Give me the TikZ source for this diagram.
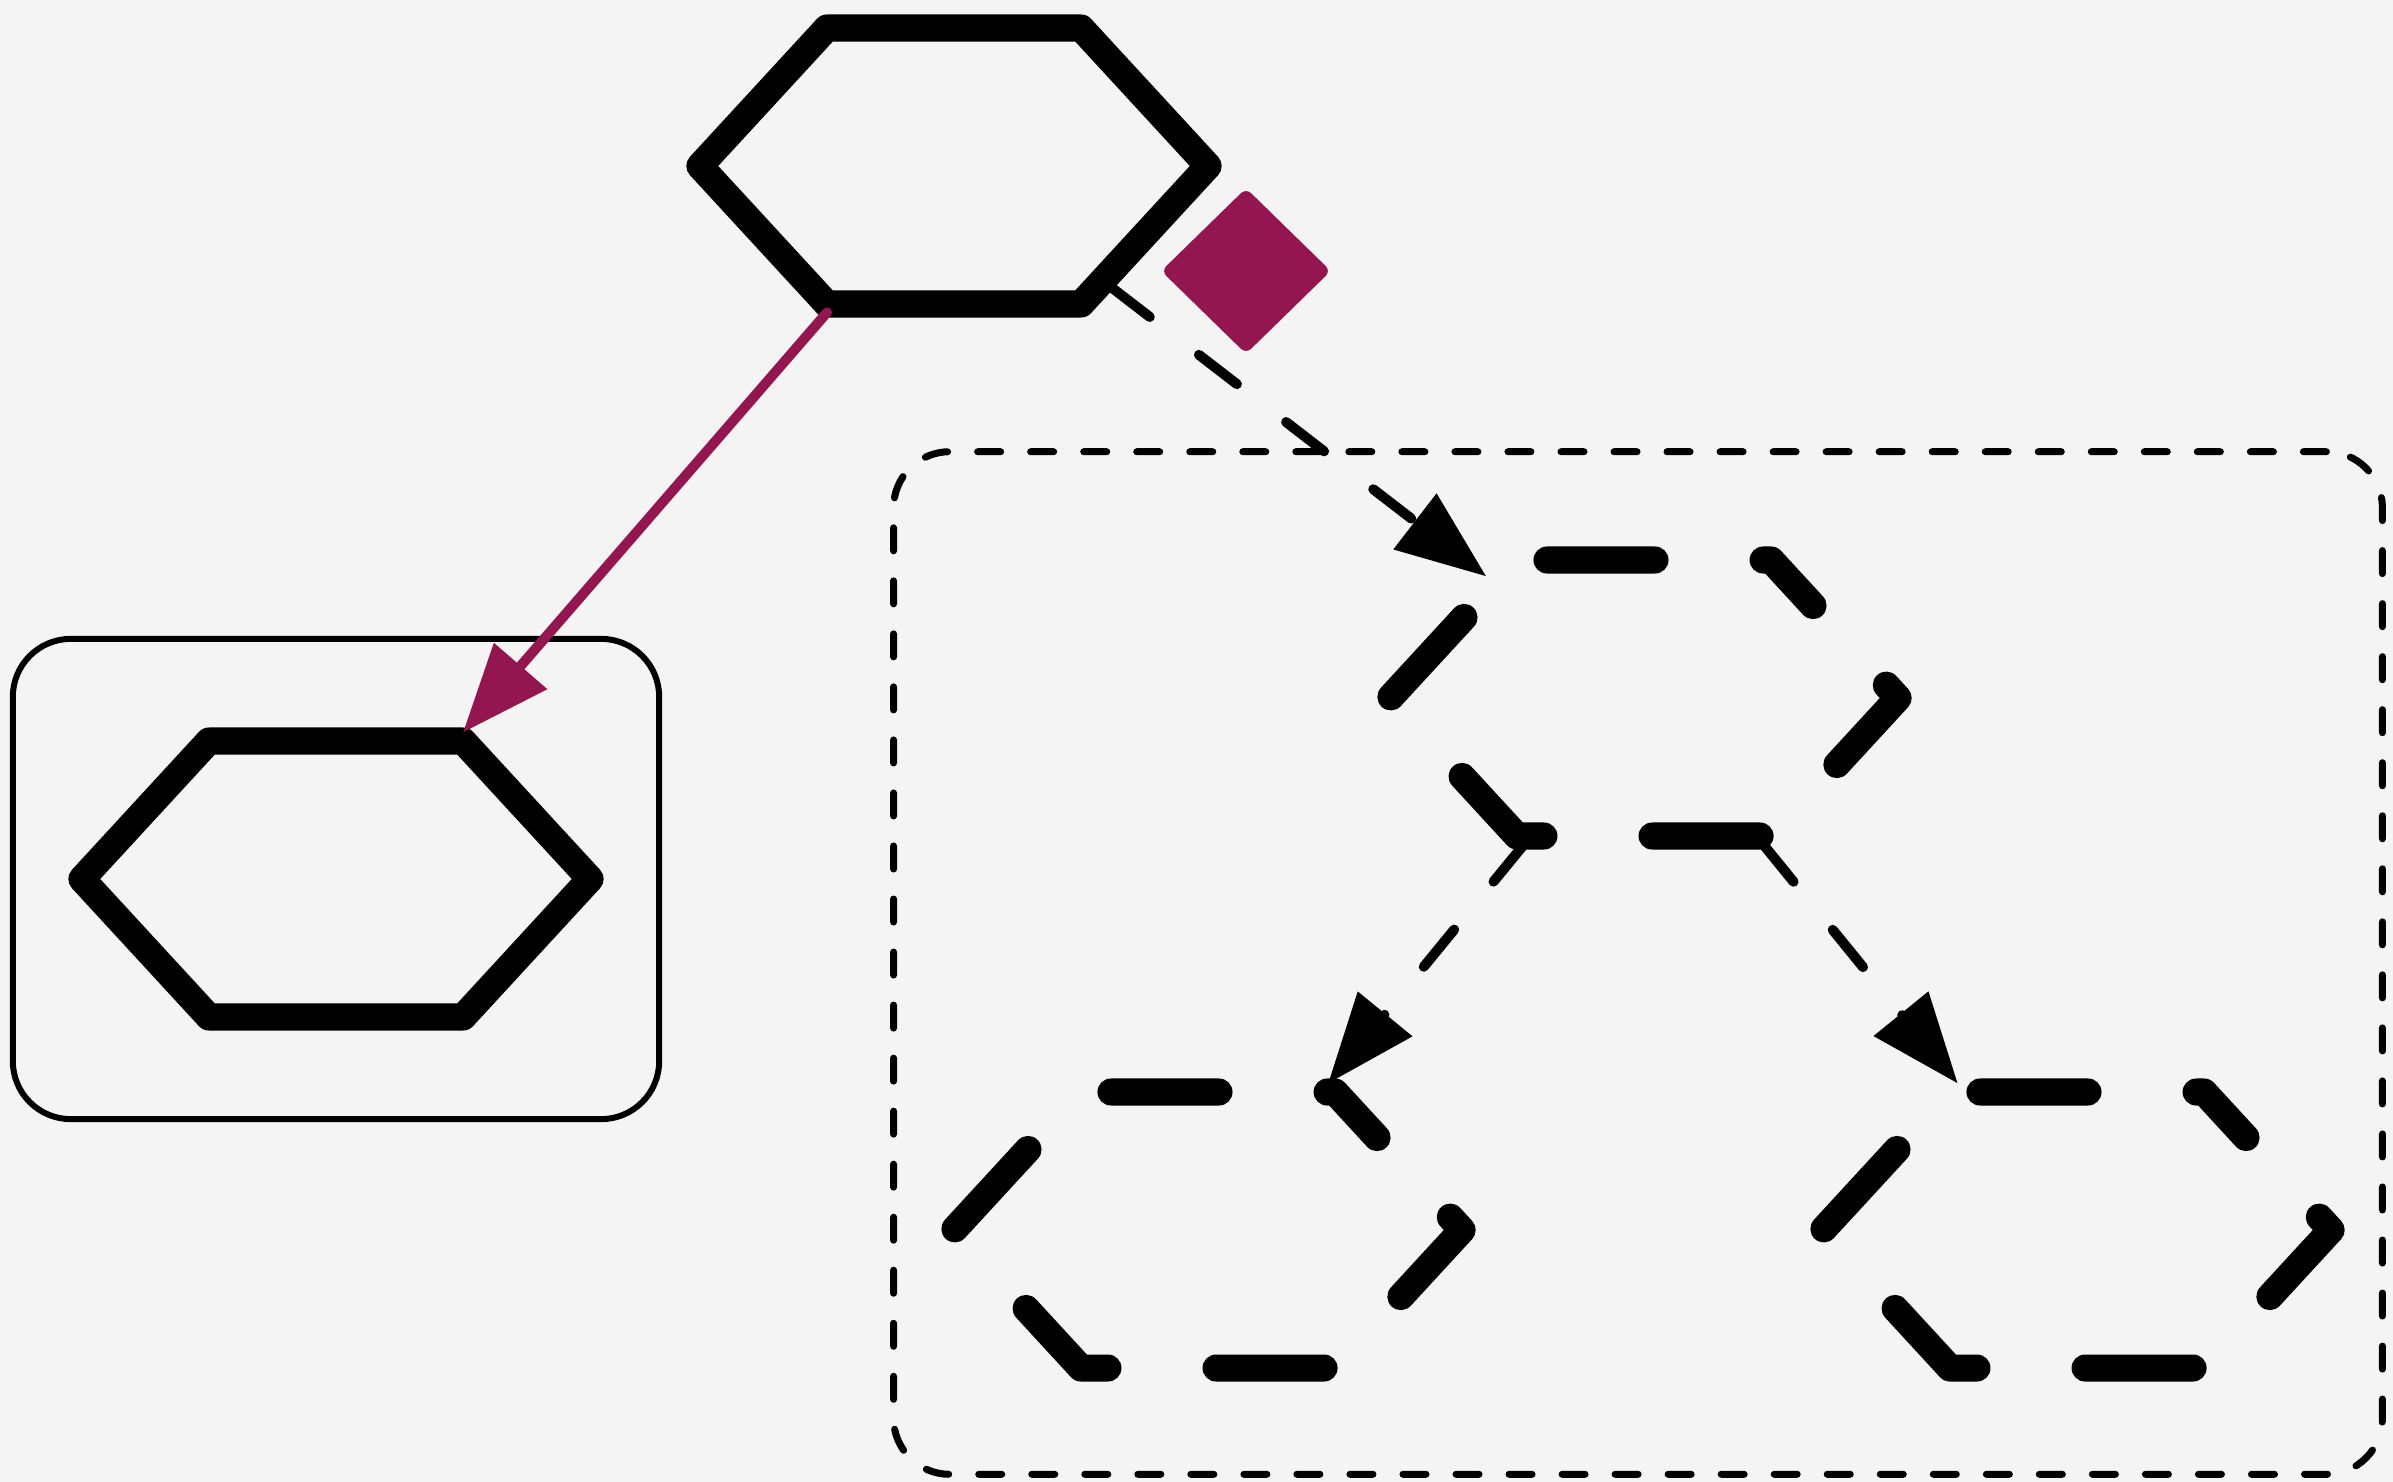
\documentclass[tikz,border=0pt]{standalone}
\usepackage{xcolor}
\usepackage{tikz}
\usetikzlibrary{positioning,arrows.meta,shapes.geometric}

\definecolor{berry}{RGB}{148,22,80}
\definecolor{paper}{RGB}{244,244,244}

\begin{document}
\begin{tikzpicture}[
	x=0.01cm,
	y=-0.01cm,
	>=Stealth,
	hex/.style={
		regular polygon,
		regular polygon sides=6,
		transform shape,
		yscale=0.627,
		minimum size=5.08cm,
		inner sep=0pt,
		draw,
		line width=0.27cm,
		line join=round
	},
	ring/.style={
		hex,
		line cap=round,
		dash pattern=on 1.08cm off 1.08cm,
		dash phase=1cm
	},
	frame/.style={
		rectangle,
		rounded corners=0.58cm,
		draw,
		line width=0.06cm,
		minimum width=6.46cm,
		minimum height=4.8cm
	},
	group/.style={
		rectangle,
		rounded corners=0.56cm,
		draw,
		line width=0.07cm,
		line cap=round,
		dash pattern=on 0.23cm off 0.3cm,
		minimum width=14.88cm,
		minimum height=10.22cm
	},
	link/.style={
		draw=berry,
		line width=0.1cm,
		line cap=round,
		-{Triangle[length=0.88cm,width=0.68cm]}
	},
	flow/.style={
		line width=0.1cm,
		line cap=round,
		dash pattern=on 0.48cm off 0.62cm,
		-{Triangle[length=0.9cm,width=0.68cm]}
	}
	]

	\path[use as bounding box, fill=paper] (0,0) rectangle (2393,1482);

	\node[frame] (box) at (336,879) {};
	\node[group] (pool) at (1638,963) {};

	\node[hex] (source) at (954,166) {};
	\node[hex] (copy) at (box.center) {};
	\node[diamond, fill=berry, rounded corners=0.07cm, inner sep=0pt,
		minimum width=1.7cm, minimum height=1.66cm] (badge) at (1246,271) {};

	\node[ring] (ringa) at (1644,698) {};
	\node[ring] (ringb) at (1208,1230) {};
	\node[ring] (ringc) at (2077,1230) {};

	\draw[link] (source) -- (copy);
	\draw[flow] (source) -- (ringa);
	\draw[flow] (ringa) -- (ringb);
	\draw[flow] (ringa) -- (ringc);
\end{tikzpicture}
\end{document}
